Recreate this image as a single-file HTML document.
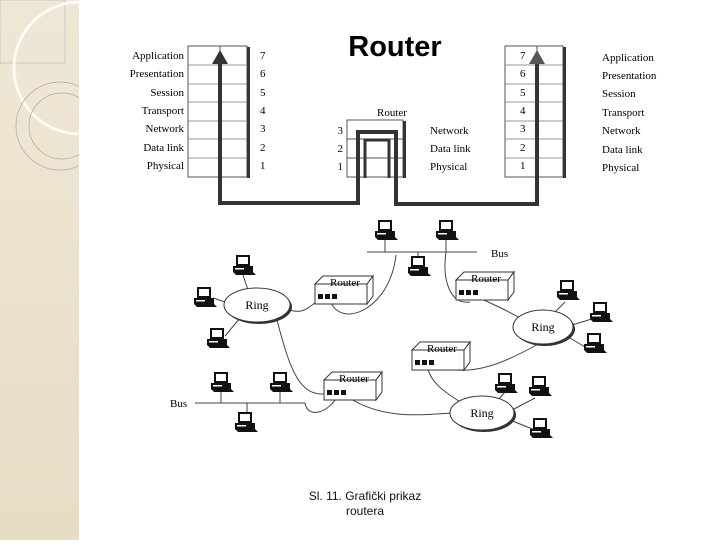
<!DOCTYPE html>
<html><head><meta charset="utf-8"><style>
body{margin:0;width:720px;height:540px;background:#fff;overflow:hidden;font-family:"Liberation Serif",serif}
</style></head><body>
<svg width="720" height="540" xmlns="http://www.w3.org/2000/svg">
<defs>
<linearGradient id="bg" x1="0" y1="0" x2="0" y2="1"><stop offset="0" stop-color="#efe7d6"/><stop offset="1" stop-color="#e7dcc4"/></linearGradient>
<g id="pc">
<rect x="-7" y="-10" width="14" height="11" fill="#111"/>
<rect x="-5" y="-8" width="10" height="7" fill="#fff"/>
<rect x="-10" y="1" width="20" height="6" fill="#111"/>
<rect x="-8" y="3" width="9" height="1.5" fill="#fff"/>
<polygon points="-10,7 10,7 13,10 -7,10" fill="#111"/>
</g>
<g id="rt">
<polygon points="0,8 8,0 58,0 52,8" fill="#fff" stroke="#333"/>
<polygon points="52,8 58,0 58,20 52,28" fill="#fff" stroke="#333"/>
<rect x="0" y="8" width="52" height="20" fill="#fff" stroke="#333"/>
<rect x="3" y="18" width="5" height="5" fill="#111"/><rect x="10" y="18" width="5" height="5" fill="#111"/><rect x="17" y="18" width="5" height="5" fill="#111"/>
<text x="30" y="10" font-size="11" text-anchor="middle">Router</text>
</g>
</defs>
<rect x="0" y="0" width="79" height="540" fill="url(#bg)"/>
<rect x="0" y="0" width="65" height="63" fill="none" stroke="#bbb" stroke-width="0.7"/>
<circle cx="80" cy="68" r="66" fill="none" stroke="#fff" stroke-width="3" opacity="0.8"/>
<circle cx="60" cy="126" r="44" fill="none" stroke="#aaa" stroke-width="0.7"/>
<circle cx="62" cy="126" r="33" fill="none" stroke="#aaa" stroke-width="0.7"/>
<rect x="79" y="0" width="641" height="540" fill="#fff"/>

<text x="395" y="56" font-family="Liberation Sans,sans-serif" font-weight="bold" font-size="29" text-anchor="middle">Router</text>

<g stroke="#555" fill="none" stroke-width="1">
<rect x="188" y="46" width="59" height="131"/>
<line x1="220" y1="46" x2="220" y2="177"/>
<rect x="505" y="46" width="58" height="131"/>
<line x1="537" y1="46" x2="537" y2="177"/>
<rect x="347" y="120" width="56" height="57"/>
<line x1="347" y1="139" x2="403" y2="139"/><line x1="347" y1="158" x2="403" y2="158"/>
</g>
<g stroke="#777" stroke-width="0.8">
<line x1="188" y1="65" x2="247" y2="65"/><line x1="188" y1="84" x2="247" y2="84"/><line x1="188" y1="102" x2="247" y2="102"/><line x1="188" y1="121" x2="247" y2="121"/><line x1="188" y1="139" x2="247" y2="139"/><line x1="188" y1="158" x2="247" y2="158"/>
<line x1="505" y1="65" x2="563" y2="65"/><line x1="505" y1="84" x2="563" y2="84"/><line x1="505" y1="102" x2="563" y2="102"/><line x1="505" y1="121" x2="563" y2="121"/><line x1="505" y1="139" x2="563" y2="139"/><line x1="505" y1="158" x2="563" y2="158"/>
</g>
<rect x="247" y="47" width="3" height="131" fill="#333"/>
<rect x="563" y="47" width="3" height="131" fill="#333"/>
<rect x="403" y="121" width="3" height="57" fill="#333"/>
<path d="M220,62 V203 H358 V132 H396 V204 H537 V62" fill="none" stroke="#333" stroke-width="4"/>
<path d="M365,178 V140 H389 V178" fill="none" stroke="#333" stroke-width="3"/>
<polygon points="212,64 220,50 228,64" fill="#333"/>
<polygon points="529,64 537,50 545,64" fill="#555"/>

<g font-size="11" text-anchor="end">
<text x="184" y="59">Application</text><text x="184" y="77">Presentation</text><text x="184" y="96">Session</text><text x="184" y="114">Transport</text><text x="184" y="132">Network</text><text x="184" y="151">Data link</text><text x="184" y="169">Physical</text>
<text x="343" y="134">3</text><text x="343" y="152">2</text><text x="343" y="170">1</text>
</g>
<g font-size="11">
<text x="260" y="59">7</text><text x="260" y="77">6</text><text x="260" y="96">5</text><text x="260" y="114">4</text><text x="260" y="132">3</text><text x="260" y="151">2</text><text x="260" y="169">1</text>
<text x="520" y="59">7</text><text x="520" y="77">6</text><text x="520" y="96">5</text><text x="520" y="114">4</text><text x="520" y="132">3</text><text x="520" y="151">2</text><text x="520" y="169">1</text>
<text x="602" y="61">Application</text><text x="602" y="79">Presentation</text><text x="602" y="97">Session</text><text x="602" y="116">Transport</text><text x="602" y="134">Network</text><text x="602" y="153">Data link</text><text x="602" y="171">Physical</text>
<text x="430" y="134">Network</text><text x="430" y="152">Data link</text><text x="430" y="170">Physical</text>
<text x="377" y="116">Router</text>
</g>

<g stroke="#444" fill="none" stroke-width="1">
<line x1="367" y1="252" x2="477" y2="252"/>
<line x1="195" y1="403" x2="305" y2="403"/>
<path d="M290,310 C305,315 310,305 322,298"/>
<path d="M330,300 C340,330 390,310 396,255"/>
<path d="M446,252 C442,280 450,305 470,302"/>
<path d="M475,296 C495,305 510,312 520,318"/>
<path d="M277,320 C290,370 300,400 330,393"/>
<path d="M305,403 C308,420 330,412 338,395"/>
<path d="M345,395 C380,420 420,415 452,413"/>
<path d="M427,365 C430,385 450,395 465,405"/>
<path d="M437,365 C470,380 510,360 540,343"/>
<line x1="243" y1="275" x2="248" y2="290"/><line x1="213" y1="298" x2="225" y2="302"/><line x1="225" y1="336" x2="240" y2="318"/>
<line x1="385" y1="240" x2="385" y2="252"/><line x1="446" y1="240" x2="446" y2="252"/><line x1="418" y1="252" x2="418" y2="258"/>
<line x1="221" y1="392" x2="221" y2="403"/><line x1="280" y1="392" x2="280" y2="403"/><line x1="247" y1="403" x2="247" y2="412"/>
<line x1="565" y1="302" x2="555" y2="312"/><line x1="595" y1="318" x2="572" y2="325"/><line x1="590" y1="350" x2="570" y2="338"/>
<line x1="505" y1="392" x2="498" y2="400"/><line x1="535" y1="398" x2="512" y2="410"/><line x1="535" y1="430" x2="510" y2="420"/>
</g>
<g>
<ellipse cx="259" cy="307" rx="33" ry="17" fill="#333"/><ellipse cx="257" cy="305" rx="33" ry="17" fill="#fff" stroke="#333"/>
<ellipse cx="545" cy="329" rx="30" ry="17" fill="#333"/><ellipse cx="543" cy="327" rx="30" ry="17" fill="#fff" stroke="#333"/>
<ellipse cx="484" cy="415" rx="32" ry="17" fill="#333"/><ellipse cx="482" cy="413" rx="32" ry="17" fill="#fff" stroke="#333"/>
</g>
<g font-size="12" text-anchor="middle">
<text x="257" y="309">Ring</text><text x="543" y="331">Ring</text><text x="482" y="417">Ring</text>
<text x="491" y="257" text-anchor="start" font-size="11">Bus</text>
<text x="170" y="407" text-anchor="start" font-size="11">Bus</text>
</g>
<use href="#rt" x="315" y="276"/>
<use href="#rt" x="456" y="272"/>
<use href="#rt" x="412" y="342"/>
<use href="#rt" x="324" y="372"/>
<use href="#pc" x="385" y="230"/><use href="#pc" x="446" y="230"/><use href="#pc" x="418" y="266"/>
<use href="#pc" x="243" y="265"/><use href="#pc" x="204" y="297"/><use href="#pc" x="217" y="338"/>
<use href="#pc" x="221" y="382"/><use href="#pc" x="280" y="382"/><use href="#pc" x="245" y="422"/>
<use href="#pc" x="567" y="290"/><use href="#pc" x="600" y="312"/><use href="#pc" x="594" y="343"/>
<use href="#pc" x="505" y="383"/><use href="#pc" x="539" y="386"/><use href="#pc" x="540" y="428"/>

<g font-family="Liberation Sans,sans-serif" font-size="12" text-anchor="middle" fill="#111">
<text x="365" y="500">Sl. 11. Grafički prikaz</text>
<text x="365" y="515">routera</text>
</g>
</svg>
</body></html>
